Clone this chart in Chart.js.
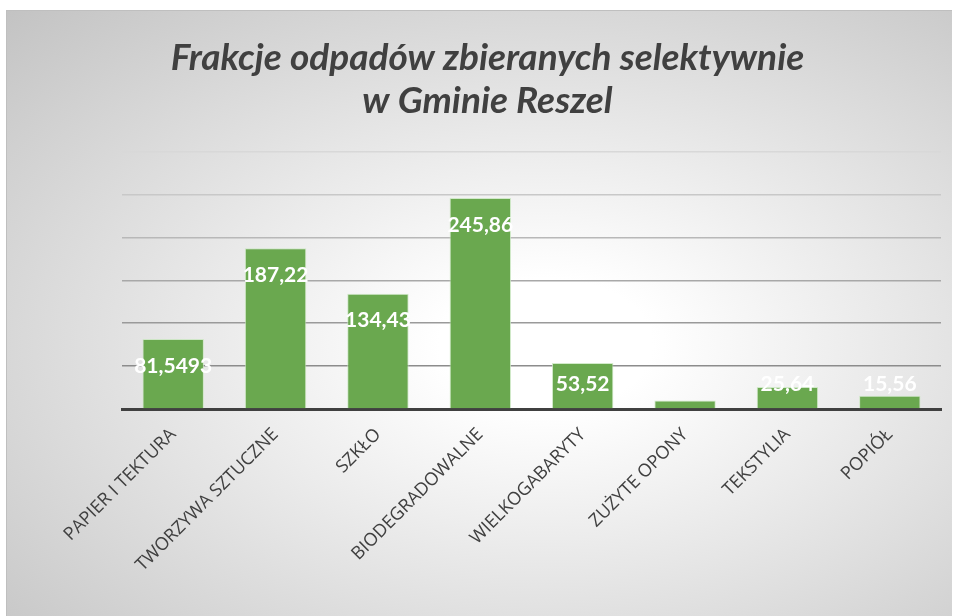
<!DOCTYPE html>
<html>
<head>
<meta charset="utf-8">
<script src="https://cdn.jsdelivr.net/npm/chart.js@4"></script>
<style>
  body { margin: 0; background: #fff; }
  #box {
    position: absolute; left: 6px; top: 10px; width: 945px; height: 606px;
    border-top: 1px solid #bfbfbf; border-left: 1px solid #bfbfbf;
    background: radial-gradient(farthest-corner at 57% 55%, #ffffff 0%, #ffffff 14%, #c3c3c3 100%);
  }
</style>
</head>
<body>
<div id="box"><canvas id="chart" width="945" height="606"></canvas></div>
<script>
const categories = ['PAPIER I TEKTURA', 'TWORZYWA SZTUCZNE', 'SZKŁO', 'BIODEGRADOWALNE', 'WIELKOGABARYTY', 'ZUŻYTE OPONY', 'TEKSTYLIA', 'POPIÓŁ'];
const values = [81.5493, 187.22, 134.43, 245.86, 53.52, 10, 25.64, 15.56];
const hiddenLabels = [5];
const yTicks = [0, 50, 100, 150, 200, 250, 300];

const context = document.querySelector('#chart').getContext('2d');

// white value labels inside the bar end, pushed up when the bar is short
const valueLabels = {
  id: 'valueLabels',
  afterDatasetsDraw(chart) {
    const ctx = chart.ctx;
    const meta = chart.getDatasetMeta(0);
    const base = chart.scales.y.getPixelForValue(0);
    ctx.save();
    ctx.fillStyle = '#ffffff';
    ctx.font = 'bold 21px Lato';
    ctx.textAlign = 'center';
    ctx.textBaseline = 'middle';
    meta.data.forEach((bar, i) => {
      if (hiddenLabels.includes(i)) return;
      const y = Math.min(bar.y + 27, base - 25);
      ctx.fillText(values[i].toString().replace('.', ','), bar.x, y);
    });
    ctx.restore();
  }
};

new Chart(context, {
  type: 'bar',
  data: {
    labels: categories,
    datasets: [{
      data: values,
      backgroundColor: '#6aa84f',
      borderColor: 'rgba(200,230,190,0.8)',
      borderWidth: 1,
      categoryPercentage: 1,
      barPercentage: 0.6
    }]
  },
  options: {
    responsive: false,
    animation: false,
    layout: { padding: { left: 27, right: 11, top: 0, bottom: 0 } },
    plugins: {
      legend: { display: false },
      tooltip: { enabled: false },
      title: {
        display: true,
        text: ['Frakcje odpadów zbieranych selektywnie', 'w Gminie Reszel'],
        color: '#404040',
        font: { family: 'Lato', size: 37, weight: 'bold', style: 'italic', lineHeight: 1.17 },
        padding: { top: 25, bottom: 29 }
      }
    },
    scales: {
      x: {
        grid: { display: false },
        border: { color: '#404040', width: 3 },
        ticks: {
          color: '#404040',
          font: { family: 'Open Sans', size: 18 },
          maxRotation: 45, minRotation: 45,
          padding: 7
        },
        afterFit: (s) => { s.height = 208; }
      },
      y: {
        min: 0, max: 300,
        afterBuildTicks: (s) => { s.ticks = yTicks.map((v) => ({ value: v })); },
        ticks: { display: false },
        border: { display: false },
        grid: {
          color: (c) => ['#404040', '#8c8c8c', '#9a9a9a', '#a8a8a8', '#b8b8b8', '#c8c8c8', '#d8d8d8'][c.index],
          lineWidth: 1.5,
          drawTicks: false
        },
        afterFit: (s) => { s.width = 88; }
      }
    }
  },
  plugins: [valueLabels]
});
</script>
</body>
</html>
